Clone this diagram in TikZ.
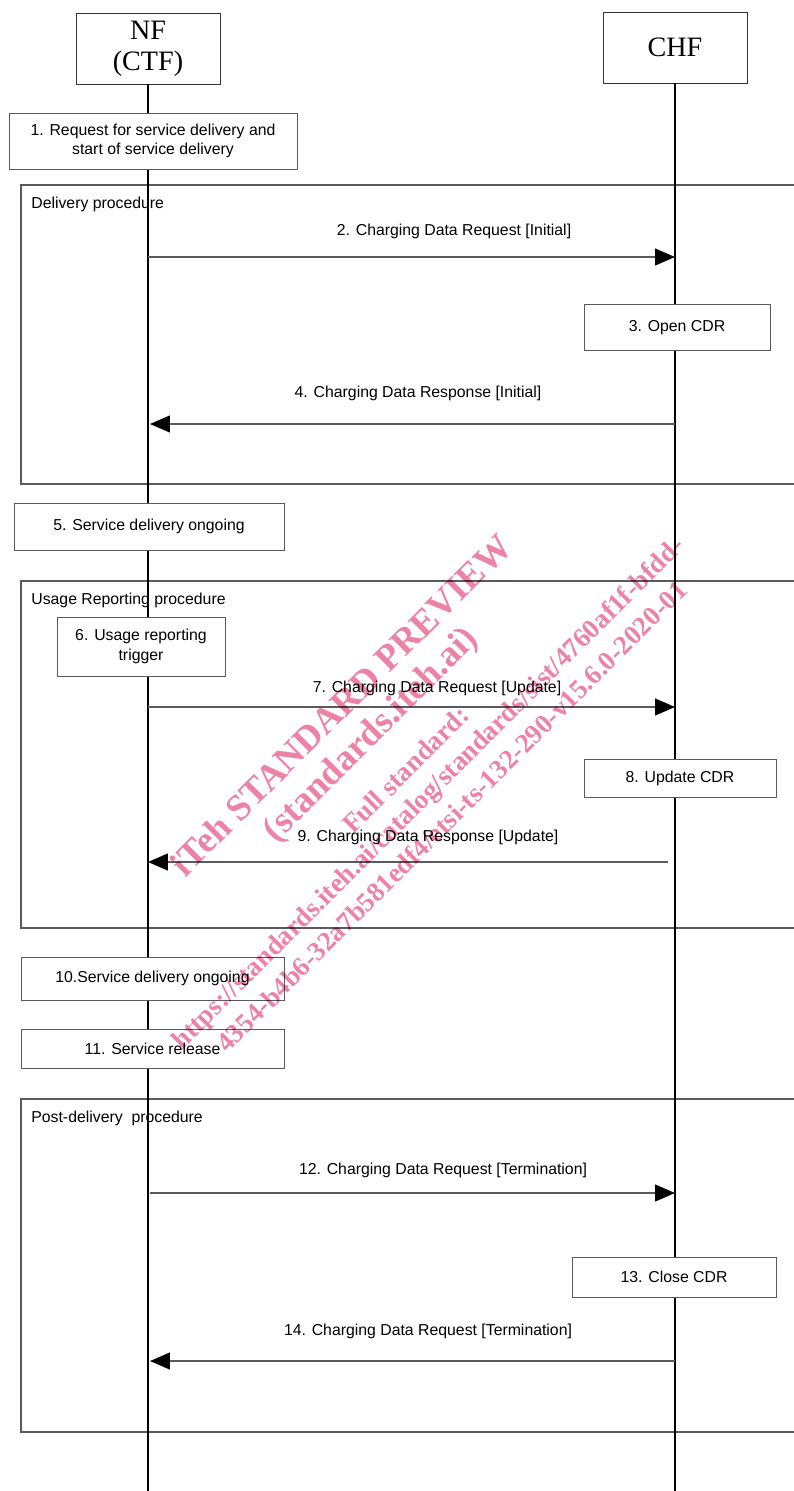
\documentclass[tikz,border=0pt]{standalone}
\usepackage{fontspec}
\setmainfont{Liberation Sans}
\newfontfamily\serifhdr{Liberation Serif}
\usetikzlibrary{arrows.meta,positioning}
\definecolor{wmpink}{RGB}{236,130,164}
\definecolor{linegray}{RGB}{90,90,90}

\tikzset{
  actor/.style={draw=black!80, fill=white, minimum width=2.88cm, minimum height=1.42cm, align=center, inner sep=0pt, font=\serifhdr\fontsize{16}{17.5}\selectfont},
  stepbox/.style={draw=linegray, fill=white, align=center, inner sep=0pt, font=\fontsize{9}{11}\selectfont},
  frame/.style={draw=linegray, line width=0.7pt},
  msg/.style={draw=linegray, line width=0.7pt, -{Triangle[length=0.4cm, width=0.34cm, color=black]}},
  lbl/.style={font=\fontsize{9}{11}\selectfont, inner sep=0pt},
  life/.style={line width=1.1pt},
  wmark/.style={text=wmpink, rotate=45, anchor=base, inner sep=0pt}
}

\begin{document}
\begin{tikzpicture}[x=0.02cm, y=-0.02cm]
\useasboundingbox (0,0) rectangle (794,1491);
\clip (0,0) rectangle (794,1491);
\pgfmathsetmacro{\nfx}{148}
\pgfmathsetmacro{\chfx}{675}

% the two parties
\node[actor] (nf) at (\nfx,48.5) {NF\\(CTF)};
\node[actor] (chf) at (\chfx,47.5) {CHF};

% procedure frames
\draw[frame] (21,185) rectangle (810,484);
\node[lbl, anchor=west] (fr1) at (31,204) {Delivery procedure};
\draw[frame] (21,581) rectangle (810,928);
\node[lbl, anchor=west] (fr2) at (31,600) {Usage Reporting procedure};
\draw[frame] (21,1099) rectangle (810,1432);
\node[lbl, anchor=west] (fr3) at (31,1118) {Post-delivery\ \ procedure};

% life lines
\coordinate (nfend) at (\nfx,1491);
\coordinate (chfend) at (\chfx,1491);
\draw[life] (nf) -- (nfend);
\draw[life] (chf) -- (chfend);

% steps on the NF side
\node[stepbox, minimum width=5.76cm, minimum height=1.12cm] (s1) at (153,141) {1. Request for service delivery and\\start of service delivery};
\node[stepbox, minimum width=5.40cm, minimum height=0.94cm] (s5) at (149,526.5) {5. Service delivery ongoing};
\node[stepbox, minimum width=3.36cm, minimum height=1.18cm] (s6) at (141,646.5) {6. Usage reporting\\trigger};
\node[stepbox, minimum width=5.26cm, minimum height=0.86cm] (s10) at (152.5,978.5) {10.Service delivery ongoing};
\node[stepbox, minimum width=5.26cm, minimum height=0.78cm] (s11) at (152.5,1048.5) {11. Service release};

% steps on the CHF side
\node[stepbox, minimum width=3.72cm, minimum height=0.92cm] (s3) at (677,327.5) {3. Open CDR};
\node[stepbox, minimum width=3.84cm, minimum height=0.76cm] (s8) at (680,778) {8. Update CDR};
\node[stepbox, minimum width=4.08cm, minimum height=0.80cm] (s13) at (674,1277) {13. Close CDR};

% messages
\coordinate (a2s) at (\nfx,257);
\coordinate (a2e) at (\chfx,257);
\draw[msg] (a2s) -- (a2e);
\node[lbl] (l2) at (454,231) {2. Charging Data Request [Initial]};

\coordinate (a4s) at (\chfx,424);
\coordinate (a4e) at (150,424);
\draw[msg] (a4s) -- (a4e);
\node[lbl] (l4) at (418,393) {4. Charging Data Response [Initial]};

\coordinate (a7s) at (\nfx,707);
\coordinate (a7e) at (\chfx,707);
\draw[msg] (a7s) -- (a7e);
\node[lbl] (l7) at (437,688) {7. Charging Data Request [Update]};

\coordinate (a9s) at (668,862);
\coordinate (a9e) at (\nfx,862);
\draw[msg] (a9s) -- (a9e);
\node[lbl] (l9) at (428,837) {9. Charging Data Response [Update]};

\coordinate (a12s) at (150,1193);
\coordinate (a12e) at (\chfx,1193);
\draw[msg] (a12s) -- (a12e);
\node[lbl] (l12) at (443,1170) {12. Charging Data Request [Termination]};

\coordinate (a14s) at (\chfx,1361);
\coordinate (a14e) at (150,1361);
\draw[msg] (a14s) -- (a14e);
\node[lbl] (l14) at (428,1331) {14. Charging Data Request [Termination]};

% watermark, laid over the drawing
\begin{scope}[blend mode=multiply]
\node[wmark, font=\serifhdr\bfseries\fontsize{21}{24}\selectfont] (wm1) at (349.7,713.7) {iTeh STANDARD PREVIEW};
\node[wmark, font=\serifhdr\bfseries\fontsize{21}{24}\selectfont] (wm2) at (378,742) {(standards.iteh.ai)};
\node[wmark, font=\serifhdr\bfseries\fontsize{15.4}{18}\selectfont] (wm3) at (412,776) {Full standard:};
\node[wmark, font=\serifhdr\bfseries\fontsize{15.4}{18}\selectfont] (wm4) at (434,799) {https://standards.iteh.ai/catalog/standards/sist/4760af1f-bfdd-};
\node[wmark, font=\serifhdr\bfseries\fontsize{15.4}{18}\selectfont] (wm5) at (458,823) {4354-b4b6-32a7b581edf4/etsi-ts-132-290-v15.6.0-2020-01};
\end{scope}
\end{tikzpicture}
\end{document}
